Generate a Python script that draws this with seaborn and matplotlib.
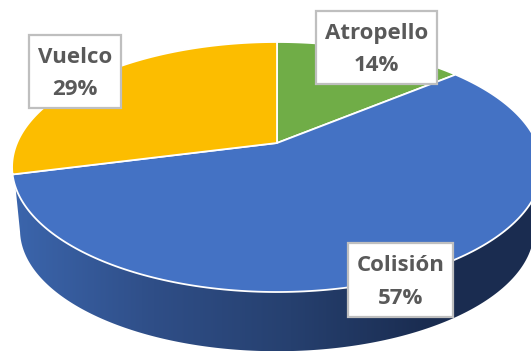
#! /usr/bin/env python
"""
Tilted pie of accident types with a shaded rim
"""

import numpy as np
import seaborn as sns
import matplotlib.pyplot as plt
from matplotlib.patches import Polygon

CATEGORIES = ["Atropello", "Colisión", "Vuelco"]
SHARES = [14, 57, 29]
SLICE_COLORS = ["#70AD47", "#4472C4", "#FCBD00"]
RIM_COLORS = ["#3B65AC", "#2F4E87", "#26406F", "#1A2C50"]

# where each label box sits, in pixels: left, top, right, bottom
LABEL_BOXES = {
    "Atropello": (316, 11, 437, 84),
    "Colisión": (348, 243, 453, 317),
    "Vuelco": (29, 35, 121, 108),
}

# perspective of the disc, in pixels
CENTER_X, CENTER_Y = 277, 143
SCALE_X, SCALE_Y = 260, 120.4
TILT = 0.192
DEPTH = 63.7
FLOOR_SCALE = 0.97


def project(angle, scale=1.0, drop=0.0):
    """Maps clockwise angles from twelve o'clock on the unit disc to pixels"""
    u, v = np.sin(angle), np.cos(angle)
    w = 1 + TILT * v
    x = CENTER_X + scale * SCALE_X * u / w
    y = CENTER_Y - scale * SCALE_Y * v / w + drop
    return x, y


def draw_rim(ax):
    """Draws the side wall as a left to right gradient clipped to its outline"""
    floor_x, floor_y = project(
        np.radians(np.linspace(258, 102, 240)), FLOOR_SCALE, DEPTH
    )
    top_x, top_y = project(np.radians(np.array([102, 250])))
    outline = Polygon(
        np.c_[np.r_[floor_x, top_x], np.r_[floor_y, top_y]],
        transform=ax.transData,
        facecolor="none",
        edgecolor="none",
    )
    ax.add_patch(outline)
    cmap = sns.blend_palette(RIM_COLORS, as_cmap=True)
    gradient = ax.imshow(
        np.linspace(0, 1, 256).reshape(1, -1),
        cmap=cmap,
        extent=(15, 430, 351, 0),
        aspect="auto",
        interpolation="bilinear",
    )
    gradient.set_clip_path(outline)
    # the far right keeps the darkest shade
    tail = ax.imshow(
        np.ones((1, 2)),
        cmap=cmap,
        vmin=0,
        vmax=1,
        extent=(430, 531, 351, 0),
        aspect="auto",
    )
    tail.set_clip_path(outline)
    # the far left keeps the lightest shade
    head = ax.imshow(
        np.zeros((1, 2)),
        cmap=cmap,
        vmin=0,
        vmax=1,
        extent=(0, 15, 351, 0),
        aspect="auto",
    )
    head.set_clip_path(outline)


def draw_slices(ax):
    """Draws the slices from the shares, clockwise from twelve o'clock"""
    edges = np.cumsum([0] + SHARES) / sum(SHARES) * 2 * np.pi
    for start, end, color in zip(edges[:-1], edges[1:], SLICE_COLORS):
        xs, ys = project(np.linspace(start, end, 200))
        ax.fill(
            np.r_[CENTER_X, xs],
            np.r_[CENTER_Y, ys],
            facecolor=color,
            edgecolor="white",
            lw=1.3,
            joinstyle="round",
            zorder=3,
        )


def draw_labels(ax):
    for name, share in zip(CATEGORIES, SHARES):
        left, top, right, bottom = LABEL_BOXES[name]
        ax.fill(
            [left, right, right, left],
            [top, top, bottom, bottom],
            facecolor="white",
            edgecolor="#BFBFBF",
            lw=1.6,
            zorder=5,
        )
        ax.text(
            (left + right) / 2,
            (top + bottom) / 2 + 2,
            f"{name}\n{share}%",
            ha="center",
            va="center",
            color="#595959",
            fontsize=16,
            fontweight="bold",
            linespacing=1.69,
            zorder=6,
        )


def run() -> None:
    sns.set_theme(style="white")
    plt.rcParams["font.family"] = ["Open Sans", "DejaVu Sans"]
    fig, ax = plt.subplots(figsize=(5.31, 3.51), dpi=100)
    ax.set_position([0, 0, 1, 1])
    draw_rim(ax)
    draw_slices(ax)
    draw_labels(ax)
    ax.set_xlim(0, 531)
    ax.set_ylim(351, 0)
    ax.axis("off")
    fig.savefig("out.png", dpi=100)


if __name__ == "__main__":
    run()
